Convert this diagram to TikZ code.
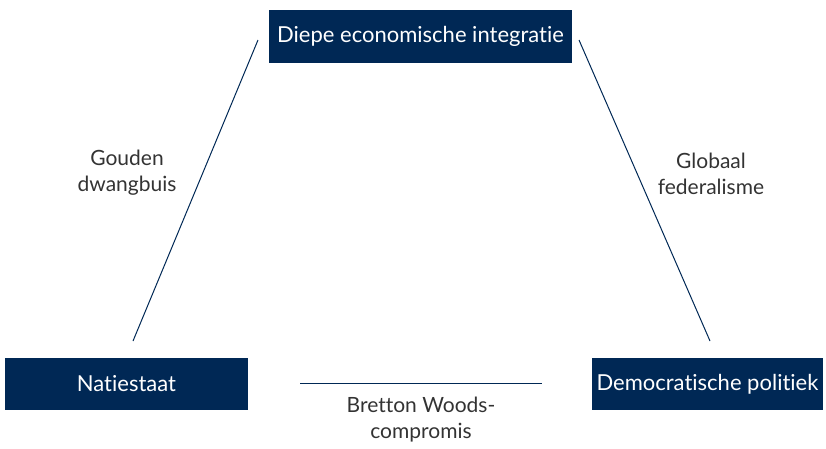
\documentclass[tikz,border=0pt]{standalone}
\usepackage{fontspec}
\setmainfont{Lato}[Ligatures={NoCommon,NoRequired,NoContextual}]
\definecolor{navy}{HTML}{002855}
\definecolor{txt}{HTML}{333333}
\begin{document}
\begin{tikzpicture}[x=1pt,y=-1pt,
  box/.style={fill=navy,text=white,inner sep=0pt,font=\fontsize{22}{26}\selectfont},
  lbl/.style={text=txt,align=center,font=\fontsize{21}{26}\selectfont},
  conn/.style={draw=navy,line width=1pt}]
\useasboundingbox (0,0) rectangle (826,448);
\node[box,minimum width=303pt,minimum height=53pt] (top) at (420.5,36.5) {Diepe economische integratie};
\node[box,minimum width=243pt,minimum height=52pt] (left) at (126.5,384) {Natiestaat};
\node[box,minimum width=231pt,minimum height=52pt] (right) at (707.5,384) {Democratische politiek};
\coordinate (l1) at (133,341);
\coordinate (l2) at (258,40);
\coordinate (r1) at (579,40);
\coordinate (r2) at (710,341);
\coordinate (b1) at (300,383);
\coordinate (b2) at (542,383);
\draw[conn] (l1) -- (l2);
\draw[conn] (r1) -- (r2);
\draw[conn] (b1) -- (b2);
\node[lbl] (g) at (127,173) {Gouden\\dwangbuis};
\node[lbl] (f) at (711,174) {Globaal\\federalisme};
\node[lbl] (bw) at (421,420) {Bretton Woods-\\compromis};
\end{tikzpicture}
\end{document}
